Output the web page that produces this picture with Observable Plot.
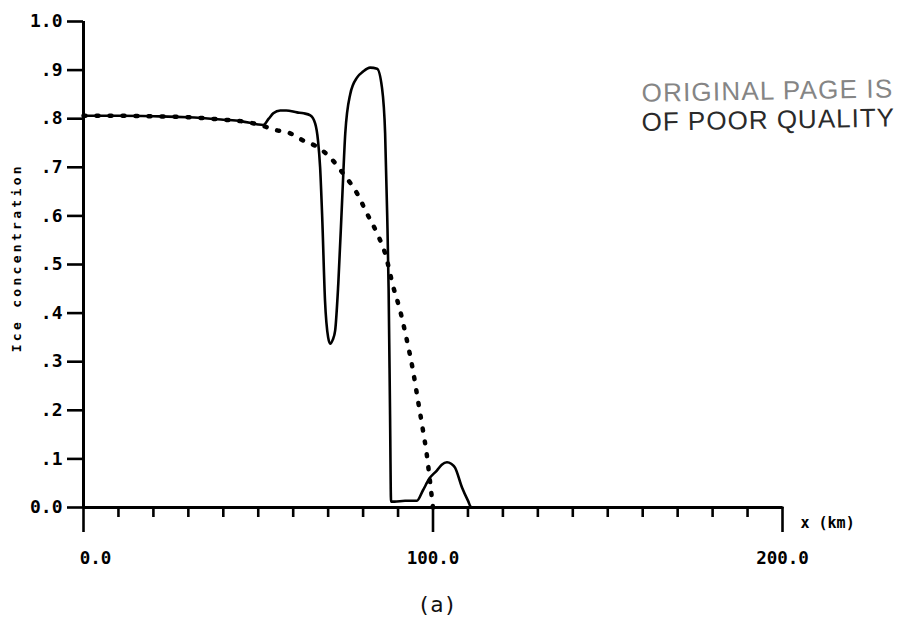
<!DOCTYPE html>
<html>
<head>
<meta charset="utf-8">
<script src="https://cdn.jsdelivr.net/npm/d3@7"></script>
<script src="https://cdn.jsdelivr.net/npm/@observablehq/plot@0.6"></script>
<style>
  html, body { margin: 0; padding: 0; background: #fff; }
  #wrap { position: relative; width: 908px; height: 621px; }
  #caption { position: absolute; left: 0; top: 592px; width: 874px; text-align: center;
    font-family: "DejaVu Sans Mono", monospace; font-size: 22px; color: #111; }
  #chart svg g[aria-label$="tick"] path,
  #chart svg g[aria-label$="tick"] line { stroke-width: 2.6px !important; }
</style>
</head>
<body>
<div id="wrap">
  <div id="chart"></div>
  <div id="caption">(a)</div>
</div>
<script>
// Solid curve (model result)
const solidX = [0, 10, 20, 30, 40, 45, 48, 50, 51.4, 53, 54.3, 56.3, 58, 61.1, 63, 64.9, 66.3, 67.1, 67.7, 68.3, 69.1, 70, 70.6, 71.3, 72, 72.9, 74, 74.9, 76.3, 78.3, 80, 82, 84, 85.4, 86.3, 86.9, 87.3, 87.7, 88.0, 89, 92, 95.4, 97.1, 99, 101.1, 102.5, 104, 105.2, 106.3, 108.3, 110, 111, 150, 200];
const solidY = [0.806, 0.806, 0.805, 0.803, 0.798, 0.795, 0.791, 0.788, 0.787, 0.800, 0.811, 0.817, 0.817, 0.813, 0.811, 0.807, 0.790, 0.755, 0.700, 0.597, 0.426, 0.350, 0.337, 0.345, 0.364, 0.460, 0.632, 0.770, 0.850, 0.885, 0.897, 0.905, 0.903, 0.864, 0.770, 0.600, 0.450, 0.200, 0.012, 0.012, 0.014, 0.014, 0.035, 0.060, 0.076, 0.088, 0.093, 0.090, 0.082, 0.041, 0.014, 0, 0, 0];

// Dotted curve
const dotX = [0, 10, 20, 30, 40, 45, 50, 55.4, 59.1, 62.9, 67.1, 70.6, 74.3, 78.3, 81.1, 84, 86.3, 88.6, 90.6, 92.5, 94.2, 95.7, 97.1, 98.2, 99.2, 100];
const dotY = [0.806, 0.806, 0.805, 0.803, 0.798, 0.795, 0.788, 0.776, 0.770, 0.755, 0.741, 0.720, 0.687, 0.646, 0.605, 0.564, 0.523, 0.455, 0.405, 0.345, 0.285, 0.220, 0.160, 0.110, 0.050, 0.0];

// Axes
const yTicks = [0, 0.1, 0.2, 0.3, 0.4, 0.5, 0.6, 0.7, 0.8, 0.9, 1.0];
const yTickLabels = ["0.0", ".1", ".2", ".3", ".4", ".5", ".6", ".7", ".8", ".9", "1.0"];
const xMajor = [0, 100, 200];
const xMajorLabels = ["0.0", "100.0", "200.0"];
const xMinor = [10, 20, 30, 40, 50, 60, 70, 80, 90, 110, 120, 130, 140, 150, 160, 170, 180, 190];
const yLabel = "Ice concentration";
const xLabel = "x (km)";
const stamp1 = "ORIGINAL PAGE IS";
const stamp2 = "OF POOR QUALITY";

const solid = solidX.map((x, i) => ({x, y: solidY[i]}));
const dotted = dotX.map((x, i) => ({x, y: dotY[i]}));
const xfmt = d => xMajorLabels[xMajor.indexOf(d)];
const yfmt = d => yTickLabels[yTicks.indexOf(d)];

const plot = Plot.plot({
  width: 908,
  height: 580,
  marginLeft: 83,
  marginRight: 126,
  marginTop: 21,
  marginBottom: 73,
  x: {domain: [0, 200]},
  y: {domain: [0, 1]},
  style: {fontFamily: "'DejaVu Sans Mono', monospace", fontWeight: "bold", color: "black", background: "white"},
  marks: [
    Plot.axisY({ticks: yTicks, tickSize: 16, tickPadding: 5, tickFormat: yfmt, fontSize: 18, label: null}),
    Plot.axisX({ticks: xMinor, tickSize: 10, tickFormat: () => "", label: null}),
    Plot.axisX({ticks: xMajor, tickSize: 25, tickFormat: () => "", label: null}),
    Plot.axisX({ticks: [100, 200], tickSize: 0, tickPadding: 44, tickFormat: xfmt, fontSize: 17.5, label: null}),
    Plot.axisX({ticks: [0], tickSize: 0, tickPadding: 44, tickFormat: xfmt, fontSize: 17.5, dx: 12, label: null}),
    Plot.ruleX([0], {y1: 0, y2: 1, strokeWidth: 3}),
    Plot.ruleY([0], {x1: 0, x2: 200, strokeWidth: 3}),
    Plot.line(solid, {x: "x", y: "y", curve: "monotone-x", strokeWidth: 2.6, stroke: "black"}),
    Plot.line(dotted, {x: "x", y: "y", curve: "monotone-x", strokeWidth: 4.5, stroke: "black", strokeDasharray: "2 11", strokeLinecap: "round"}),
    Plot.text([xLabel], {x: 200, y: 0, dx: 18, dy: 16, textAnchor: "start", fontSize: 15}),
    Plot.text([yLabel], {x: 0, y: 0.514, dx: -67, rotate: -90, fontSize: 13}),
    Plot.text([stamp1], {x: 159.7, y: 0.852, textAnchor: "start", rotate: -1, fontSize: 26, fontWeight: "normal", fontFamily: "'Liberation Sans', Arial, sans-serif", fill: "#858585"}),
    Plot.text([stamp2], {x: 159.7, y: 0.792, textAnchor: "start", rotate: -1, fontSize: 26, fontWeight: "normal", fontFamily: "'Liberation Sans', Arial, sans-serif", fill: "#2a2a2a"})
  ]
});

plot.querySelectorAll("text").forEach(t => {
  if (t.textContent === yLabel) t.style.letterSpacing = "3.3px";
  if (t.textContent === stamp1) t.style.letterSpacing = "1.2px";
  if (t.textContent === stamp2) t.style.letterSpacing = "1.0px";
});

document.getElementById("chart").appendChild(plot);
</script>
</body>
</html>
